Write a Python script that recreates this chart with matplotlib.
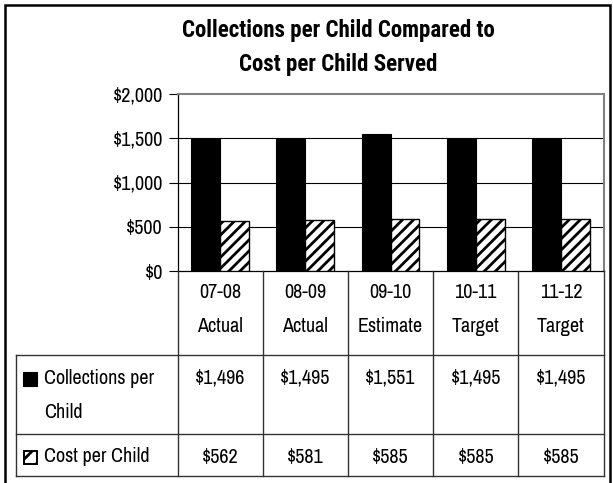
import matplotlib
matplotlib.use("Agg")
import matplotlib.pyplot as plt
from matplotlib.patches import Rectangle
from matplotlib.lines import Line2D
import numpy as np

FONTS = ['Liberation Sans Narrow', 'Archivo Narrow', 'Liberation Sans', 'DejaVu Sans']
TFONTS = ['Liberation Sans Narrow', 'Roboto Condensed', 'Fira Sans Condensed', 'Liberation Sans', 'DejaVu Sans']
plt.rcParams['font.family'] = FONTS
plt.rcParams['hatch.linewidth'] = 2.0

title = "Collections per Child Compared to\nCost per Child Served"
categories = ["07-08\nActual", "08-09\nActual", "09-10\nEstimate", "10-11\nTarget", "11-12\nTarget"]
series_names = ["Collections per\nChild", "Cost per Child"]
collections = [1496, 1495, 1551, 1495, 1495]
cost = [562, 581, 585, 585, 585]
yticks = [0, 500, 1000, 1500, 2000]

W, H = 613, 483
fig = plt.figure(figsize=(W / 100, H / 100), dpi=100)

def fx(x):
    return x / W

def fy(y):
    return 1 - y / H

fs = 14.5

# plot area in pixels
L, R, T, B = 177.5, 603.5, 94, 271
ax = fig.add_axes([fx(L), fy(B), fx(R) - fx(L), fy(T) - fy(B)])
x = np.arange(len(categories))
bw = 0.34
ax.bar(x - bw / 2, collections, bw, color='black', edgecolor='black', linewidth=0.8, zorder=3)
ax.bar(x + bw / 2, cost, bw, color='white', edgecolor='black', hatch='///', linewidth=1.0, zorder=3)
ax.set_xlim(-0.5, len(categories) - 0.5)
ax.set_ylim(0, 2000)
ax.set_yticks(yticks)
ax.set_yticklabels([f"${v:,}" for v in yticks], fontsize=fs)
ax.set_xticks([])
ax.tick_params(axis='y', direction='out', length=6.5, width=0.8, pad=4)
for v in yticks[1:-1]:
    ax.axhline(v, color='black', linewidth=0.8, zorder=1)
ax.spines['top'].set_color('#808080')
ax.spines['right'].set_color('#808080')
ax.spines['top'].set_linewidth(1.5)
ax.spines['right'].set_linewidth(1.5)
ax.spines['left'].set_color('black')
ax.spines['bottom'].set_color('black')
ax.spines['left'].set_linewidth(0.9)
ax.spines['bottom'].set_linewidth(0.9)

# title
tl = title.split("\n")
fig.text(fx(338), fy(30), tl[0], ha='center', va='center', fontsize=16.5, fontweight='bold', family=TFONTS)
fig.text(fx(338), fy(65), tl[1], ha='center', va='center', fontsize=16.5, fontweight='bold', family=TFONTS)

# outer border
fig.add_artist(Rectangle((fx(5), fy(490)), fx(610) - fx(5), fy(5) - fy(490),
                         fill=False, edgecolor='black', linewidth=1.8, transform=fig.transFigure))

# data table
n = len(categories)
cw = (R - L) / n
tc = '#333333'
def vline(xp, y0, y1):
    fig.add_artist(Line2D([fx(xp), fx(xp)], [fy(y0), fy(y1)], color=tc, linewidth=1.0, transform=fig.transFigure))
def hline(yp, x0, x1):
    fig.add_artist(Line2D([fx(x0), fx(x1)], [fy(yp), fy(yp)], color=tc, linewidth=1.0, transform=fig.transFigure))

for k in range(n + 1):
    vline(L + k * cw, B, 476)
vline(16, 355, 476)
hline(355, 16, R)
hline(434, 16, R)
hline(476, 16, R)

for k, c in enumerate(categories):
    cx = L + (k + 0.5) * cw
    parts = c.split("\n")
    fig.text(fx(cx), fy(293), parts[0], ha='center', va='center', fontsize=fs)
    fig.text(fx(cx), fy(326), parts[1], ha='center', va='center', fontsize=fs)
    fig.text(fx(cx), fy(378), f"${collections[k]:,}", ha='center', va='center', fontsize=fs)
    fig.text(fx(cx), fy(457), f"${cost[k]:,}", ha='center', va='center', fontsize=fs)

# row labels with keys
n1 = series_names[0].split("\n")
fig.text(fx(44), fy(378), n1[0], ha='left', va='center', fontsize=fs)
fig.text(fx(44), fy(413), n1[1], ha='left', va='center', fontsize=fs)
fig.text(fx(44), fy(457), series_names[1], ha='left', va='center', fontsize=fs)
fig.add_artist(Rectangle((fx(23), fy(386)), fx(37) - fx(23), fy(372) - fy(386),
                         facecolor='black', edgecolor='black', linewidth=0.8, transform=fig.transFigure))
fig.add_artist(Rectangle((fx(24), fy(464)), fx(37) - fx(24), fy(451) - fy(464),
                         facecolor='white', edgecolor='black', hatch='//', linewidth=1.4, transform=fig.transFigure))

fig.savefig("out.png", dpi=100)
